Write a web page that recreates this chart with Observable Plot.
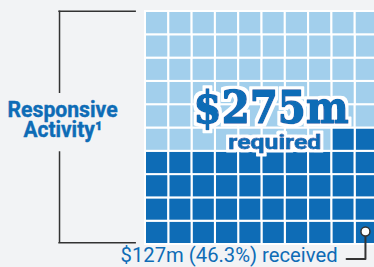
<!DOCTYPE html>
<html><head><meta charset="utf-8">
<script src="https://cdn.jsdelivr.net/npm/d3@7"></script>
<script src="https://cdn.jsdelivr.net/npm/@observablehq/plot@0.6"></script>
<style>html,body{margin:0;padding:0;background:#f2f3f5;}</style>
</head><body><div id="chart"></div>
<script>
// ---- data ----
const gridRows = 10;
const gridCols = 10;
const statusLabels = ["received", "outstanding"];
const cellCounts = [42, 58];
const requiredLabel = "$275m";
const requiredSub = "required";
const receivedLabel = "$127m (46.3%) received";
const categoryLabel = ["Responsive", "Activity\u00B9"];

// ---- build waffle cells (filled from bottom, snaking) ----
const total = cellCounts[0] + cellCounts[1];
const cells = d3.range(total).map(i => {
  const r = Math.floor(i / gridCols), k = i % gridCols;
  const col = r % 2 === 0 ? gridCols - 1 - k : k;
  const row = gridRows - 1 - r;
  return {col, row, status: i < cellCounts[0] ? statusLabels[0] : statusLabels[1]};
});

const blue = "#0e6cb6";
const ink = "#333333";

const textWidths = new Map([
  [categoryLabel[0], 110], [categoryLabel[1], 79],
  [requiredLabel, 155], [requiredSub, 93], [receivedLabel, 217]
]);
const haloSize = new Map([[requiredLabel, 3], [requiredSub, 2.5]]);

const catOpts = {textAnchor: "middle", lineAnchor: "bottom", text: d => d,
  fill: blue, stroke: blue, strokeWidth: 0.4, fontSize: 22, fontWeight: "bold", fontFamily: "Roboto"};

const chart = Plot.plot({
  width: 374, height: 267,
  margin: 0,
  style: {background: "#f2f3f5", overflow: "visible"},
  x: {domain: [0, gridCols], range: [145, 378], axis: null},
  y: {domain: [0, gridRows], range: [11, 244], axis: null},
  color: {domain: statusLabels, range: [blue, "#a2cfec"]},
  marks: [
    Plot.rect(cells, {x1: d => d.col, x2: d => d.col + 1, y1: d => d.row, y2: d => d.row + 1,
      fill: "status", stroke: "white", strokeWidth: 2}),
    // bracket
    Plot.ruleX([{x: -3.69, a: -0.015, b: 3.52}, {x: -3.69, a: 6.02, b: 9.93}],
      {x: "x", y1: "a", y2: "b", stroke: ink, strokeWidth: 1.5}),
    Plot.ruleY([{y: -0.015}, {y: 9.93}], {y: "y", x1: -3.72, x2: -0.39, stroke: ink, strokeWidth: 1.5}),
    // category label
    Plot.text([categoryLabel[0]], {...catOpts, x: -3.56, y: 4.51}),
    Plot.text([categoryLabel[1]], {...catOpts, x: -3.54, y: 5.4}),
    // big required label (white halo added by filter)
    Plot.text([requiredLabel], {x: 5.39, y: 4.77, text: d => d, textAnchor: "middle", lineAnchor: "bottom",
      fill: blue, stroke: blue, strokeWidth: 1.6, strokeLinejoin: "round",
      fontSize: 44, fontWeight: "bold", fontFamily: "DejaVu Serif"}),
    Plot.text([requiredSub], {x: 5.55, y: 5.89, text: d => d, textAnchor: "middle", lineAnchor: "bottom",
      fill: blue, stroke: blue, strokeWidth: 0.8, strokeLinejoin: "round",
      fontSize: 20, fontWeight: "bold", fontFamily: "Roboto"}),
    // received label + connector
    Plot.line([[9.44, 9.44], [9.44, 10.62], [8.63, 10.62]], {stroke: ink, strokeWidth: 2}),
    Plot.dot([[9.44, 9.44]], {r: 4.5, fill: "white", stroke: ink, strokeWidth: 1.5}),
    Plot.text([receivedLabel], {x: -1.07, y: 10.77, text: d => d, textAnchor: "start", lineAnchor: "bottom",
      fill: blue, fontSize: 21, fontFamily: "Roboto"})
  ]
});

// halo filters
const ns = "http://www.w3.org/2000/svg";
const defs = document.createElementNS(ns, "defs");
haloSize.forEach((rad, key) => {
  const id = "halo" + String(rad).replace(".", "_");
  defs.innerHTML += `<filter id="${id}" x="-20%" y="-40%" width="140%" height="180%">
    <feMorphology in="SourceAlpha" operator="dilate" radius="${rad}" result="d"/>
    <feFlood flood-color="white"/><feComposite in2="d" operator="in" result="h"/>
    <feMerge><feMergeNode in="h"/><feMergeNode in="SourceGraphic"/></feMerge></filter>`;
});
chart.prepend(defs);

chart.querySelectorAll("text").forEach(t => {
  const w = textWidths.get(t.textContent);
  if (w) { t.setAttribute("textLength", w); t.setAttribute("lengthAdjust", "spacingAndGlyphs"); }
  const h = haloSize.get(t.textContent);
  if (h) t.setAttribute("filter", `url(#halo${String(h).replace(".", "_")})`);
});
document.getElementById("chart").append(chart);
</script>
</body></html>
